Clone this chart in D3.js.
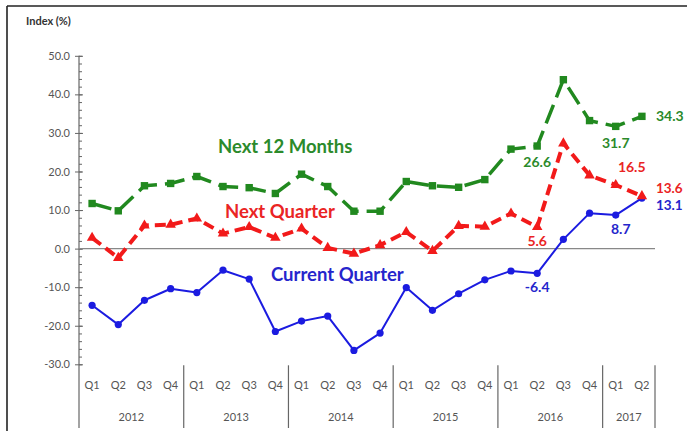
<!DOCTYPE html>
<html>
<head>
<meta charset="utf-8">
<script src="https://cdn.jsdelivr.net/npm/d3@7"></script>
<style>
  html, body { margin: 0; padding: 0; background: #fff; }
  svg { display: block; font-family: Lato, "Open Sans", sans-serif; }
</style>
</head>
<body>
<svg id="chart" width="687" height="431"></svg>
<script>
// ---------- data ----------
const years = ["2012", "2013", "2014", "2015", "2016", "2017"];
const quartersPerYear = [4, 4, 4, 4, 4, 2];
const quarterLabels = ["Q1","Q2","Q3","Q4","Q1","Q2","Q3","Q4","Q1","Q2","Q3","Q4",
                       "Q1","Q2","Q3","Q4","Q1","Q2","Q3","Q4","Q1","Q2"];
const categories = ["2012Q1","2012Q2","2012Q3","2012Q4","2013Q1","2013Q2","2013Q3","2013Q4",
                    "2014Q1","2014Q2","2014Q3","2014Q4","2015Q1","2015Q2","2015Q3","2015Q4",
                    "2016Q1","2016Q2","2016Q3","2016Q4","2017Q1","2017Q2"];
const next12Months = [11.7, 9.8, 16.3, 16.9, 18.7, 16.1, 15.8, 14.3, 19.3, 16.1, 9.7, 9.7,
                      17.4, 16.3, 15.9, 17.9, 25.8, 26.6, 43.8, 33.2, 31.7, 34.3];
const nextQuarter  = [2.8, -2.4, 6.0, 6.2, 7.8, 3.9, 5.6, 2.8, 5.2, 0.2, -1.3, 0.9,
                      4.3, -0.6, 5.9, 5.7, 9.1, 5.6, 27.3, 19.0, 16.5, 13.6];
const currentQuarter = [-14.7, -19.7, -13.4, -10.4, -11.4, -5.6, -7.9, -21.5, -18.8, -17.5, -26.4, -21.9,
                        -10.1, -16.0, -11.7, -8.1, -5.8, -6.4, 2.4, 9.2, 8.7, 13.1];
const yTicks = [-30, -20, -10, 0, 10, 20, 30, 40, 50];
const yMinorTicks = d3.range(-30, 50.001, 2);

// ---------- layout ----------
const svg = d3.select("#chart");
const plotLeft = 79, plotRight = 655, plotTop = 55.8, plotBottom = 364.3, axisBottom = 428;
const GREEN = "#21891f", RED = "#f21a1a", BLUE = "#1b1be0";
const GREEN_T = "#2b8a2b", RED_T = "#ea2424", BLUE_T = "#2525cc";
const fmt = v => d3.format(".1f")(v).replace("\u2212", "-");

const x = d3.scaleBand().domain(categories).range([plotLeft, plotRight]).paddingInner(0).paddingOuter(0);
const cx = c => x(c) + x.bandwidth() / 2;
const y = d3.scaleLinear().domain([-30, 50]).range([plotBottom, plotTop]);

// outer frame
svg.append("line").attr("x1", 7).attr("x2", 687).attr("y1", 6).attr("y2", 6)
  .attr("stroke", "#222").attr("stroke-width", 1.6);
svg.append("line").attr("x1", 7).attr("x2", 7).attr("y1", 6).attr("y2", 431)
  .attr("stroke", "#222").attr("stroke-width", 1.6);

// y-axis title
svg.append("text").attr("x", 26).attr("y", 25).text("Index (%)")
  .attr("font-size", 11).attr("font-weight", "bold").attr("fill", "#333");

// y axis: labels + left major ticks
const yAxis = svg.append("g").attr("transform", `translate(${plotLeft},0)`)
  .call(d3.axisLeft(y).tickValues(yTicks).tickFormat(fmt).tickSizeInner(4).tickSizeOuter(0).tickPadding(5));
yAxis.select(".domain").remove();
yAxis.selectAll("text").attr("font-size", 11).attr("fill", "#555").attr("font-family", "Lato, sans-serif");
yAxis.selectAll("line").attr("stroke", "#666");
// right part of major ticks + minor ticks
const yMinor = svg.append("g").attr("transform", `translate(${plotLeft},0)`)
  .call(d3.axisRight(y).tickValues(yMinorTicks).tickFormat("").tickSizeInner(3).tickSizeOuter(0));
yMinor.select(".domain").remove();
yMinor.selectAll("line").attr("stroke", "#666");
const yMajR = svg.append("g").attr("transform", `translate(${plotLeft},0)`)
  .call(d3.axisRight(y).tickValues(yTicks).tickFormat("").tickSizeInner(4).tickSizeOuter(0));
yMajR.select(".domain").remove();
yMajR.selectAll("line").attr("stroke", "#666");
// axis line (extends through category area)
svg.append("line").attr("x1", plotLeft).attr("x2", plotLeft).attr("y1", plotTop).attr("y2", axisBottom)
  .attr("stroke", "#666").attr("stroke-width", 1.2);

// zero line
svg.append("line").attr("x1", plotLeft).attr("x2", plotRight).attr("y1", y(0)).attr("y2", y(0))
  .attr("stroke", "#888").attr("stroke-width", 1.3);

// x axis: quarter labels
const xAxis = svg.append("g").attr("transform", `translate(0,${plotBottom + 17})`)
  .call(d3.axisBottom(x).tickSize(0).tickPadding(0).tickFormat((d, i) => quarterLabels[i]));
xAxis.select(".domain").remove();
xAxis.selectAll("text").attr("font-size", 11).attr("fill", "#555").attr("font-family", "Lato, sans-serif");

// year groups
let idx = 0;
years.forEach((yr, i) => {
  const first = categories[idx], last = categories[idx + quartersPerYear[i] - 1];
  const x0 = x(first), x1 = x(last) + x.bandwidth();
  svg.append("text").attr("x", (x0 + x1) / 2).attr("y", 421).attr("text-anchor", "middle")
    .attr("font-size", 11).attr("fill", "#555").text(yr);
  svg.append("line").attr("x1", x1).attr("x2", x1).attr("y1", plotBottom + 1).attr("y2", axisBottom)
    .attr("stroke", "#666").attr("stroke-width", 1.2);
  idx += quartersPerYear[i];
});

// series
const line = d3.line().x((d, i) => cx(categories[i])).y(d => y(d));

function drawSeries(values, color, width, dash) {
  svg.append("path").datum(values).attr("d", line).attr("fill", "none")
    .attr("stroke", color).attr("stroke-width", width)
    .attr("stroke-dasharray", dash || null).attr("stroke-linejoin", "round");
}

drawSeries(currentQuarter, BLUE, 2, null);
svg.append("g").selectAll("circle").data(currentQuarter).join("circle")
  .attr("cx", (d, i) => cx(categories[i])).attr("cy", d => y(d)).attr("r", 3.6).attr("fill", BLUE);

drawSeries(nextQuarter, RED, 4, "11,6");
svg.append("g").selectAll("path").data(nextQuarter).join("path")
  .attr("d", d3.symbol(d3.symbolTriangle, 48))
  .attr("transform", (d, i) => `translate(${cx(categories[i])},${y(d)})`).attr("fill", RED);

drawSeries(next12Months, GREEN, 3.5, "20,8");
svg.append("g").selectAll("rect").data(next12Months).join("rect")
  .attr("x", (d, i) => cx(categories[i]) - 3.7).attr("y", d => y(d) - 3.7)
  .attr("width", 7.4).attr("height", 7.4).attr("fill", GREEN);

// series names
svg.append("text").attr("x", 218).attr("y", 153).text("Next 12 Months")
  .attr("font-size", 18.5).attr("font-weight", "bold").attr("fill", GREEN_T);
svg.append("text").attr("x", 225).attr("y", 218).text("Next Quarter")
  .attr("font-size", 18.5).attr("font-weight", "bold").attr("fill", RED_T);
svg.append("text").attr("x", 271).attr("y", 281).text("Current Quarter")
  .attr("font-size", 18.5).attr("font-weight", "bold").attr("fill", BLUE_T);

// data labels
const labels = [
  { s: next12Months, i: 17, dx: 0, dy: 21, anchor: "middle", color: GREEN_T, size: 14 },
  { s: next12Months, i: 20, dx: 0, dy: 22, anchor: "middle", color: GREEN_T, size: 14 },
  { s: next12Months, i: 21, dx: 14, dy: 5, anchor: "start", color: GREEN_T, size: 14 },
  { s: nextQuarter, i: 17, dx: 0, dy: 19, anchor: "middle", color: RED_T, size: 14 },
  { s: nextQuarter, i: 20, dx: 16, dy: -13, anchor: "middle", color: RED_T, size: 14 },
  { s: nextQuarter, i: 21, dx: 14, dy: -3, anchor: "start", color: RED_T, size: 13.5 },
  { s: currentQuarter, i: 17, dx: 0, dy: 19, anchor: "middle", color: BLUE_T, size: 14 },
  { s: currentQuarter, i: 20, dx: 5, dy: 19, anchor: "middle", color: BLUE_T, size: 14 },
  { s: currentQuarter, i: 21, dx: 14, dy: 12, anchor: "start", color: BLUE_T, size: 13.5 }
];
labels.forEach(l => {
  svg.append("text").attr("x", cx(categories[l.i]) + l.dx).attr("y", y(l.s[l.i]) + l.dy)
    .attr("text-anchor", l.anchor).attr("font-size", l.size).attr("font-weight", "bold")
    .attr("fill", l.color).text(fmt(l.s[l.i]));
});
</script>
</body>
</html>
